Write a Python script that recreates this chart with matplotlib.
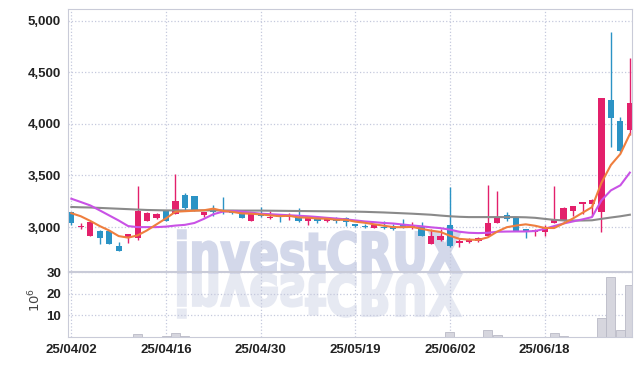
import numpy as np
import pandas as pd
import matplotlib
matplotlib.use('Agg')
import matplotlib.pyplot as plt
from matplotlib.textpath import TextPath
from matplotlib.patches import PathPatch
from matplotlib.font_manager import FontProperties
from matplotlib.transforms import Affine2D, IdentityTransform
from matplotlib.ticker import FuncFormatter, FixedLocator

# trading days (KRX holidays skipped)
holidays = ['2025-05-01', '2025-05-05', '2025-05-06', '2025-06-03', '2025-06-06']
dates = pd.bdate_range('2025-04-02', '2025-07-01', freq='C', holidays=holidays)

opens = [3146, 3000, 2912, 2961, 2960, 2815, 2893, 2893, 3064, 3090,
         3162, 3129, 3314, 3302, 3120, 3170, 3160, 3165, 3152, 3064,
         3130, 3085, 3120, 3095, 3097, 3064, 3090, 3061, 3090, 3090,
         3030, 3010, 2996, 3005, 3010, 3025, 2990, 3006, 2838, 2876,
         3025, 2845, 2855, 2870, 2918, 3042, 3120, 3097, 2977, 2952,
         2952, 3042, 3064, 3152, 3222, 3227, 3146, 4232, 4027, 3940]
closes = [3039, 3010, 3049, 2896, 2840, 2772, 2935, 3159, 3139, 3129,
          3064, 3253, 3185, 3162, 3149, 3145, 3145, 3138, 3088, 3136,
          3107, 3100, 3097, 3110, 3058, 3093, 3058, 3090, 3058, 3054,
          3006, 3000, 3016, 2995, 2985, 3000, 3016, 2918, 2912, 2918,
          2815, 2865, 2885, 2896, 3042, 3097, 3074, 2967, 2955, 2970,
          2993, 3071, 3188, 3200, 3243, 3265, 4248, 4054, 3736, 4200]
highs = [3150, 3040, 3049, 2975, 2965, 2860, 2935, 3400, 3145, 3135,
         3165, 3510, 3334, 3305, 3150, 3210, 3290, 3170, 3158, 3145,
         3190, 3155, 3125, 3136, 3188, 3100, 3095, 3095, 3095, 3095,
         3035, 3030, 3020, 3064, 3030, 3074, 3049, 3049, 2983, 2983,
         3390, 2886, 2895, 2905, 3410, 3350, 3146, 3100, 2985, 2983,
         3016, 3399, 3195, 3205, 3248, 3270, 4250, 4890, 4070, 4638]
lows = [3016, 2985, 2912, 2838, 2835, 2770, 2850, 2880, 3060, 3075,
        3060, 3125, 3168, 3155, 3100, 3105, 3130, 3130, 3085, 3060,
        3097, 3080, 3050, 3071, 3049, 3022, 3042, 3045, 3040, 3006,
        3000, 2990, 2995, 2983, 2970, 2990, 2985, 2915, 2835, 2870,
        2805, 2808, 2845, 2860, 2912, 3040, 3055, 2965, 2893, 2915,
        2915, 3040, 3060, 3105, 3130, 3110, 2950, 3778, 3730, 3890]

# volume, millions of shares
volume = [0.1, 0.1, 0.2, 0.2, 0.2, 0.2, 0.2, 1.5, 0.2, 0.2,
          0.3, 2.0, 0.4, 0.2, 0.1, 0.1, 0.2, 0.1, 0.1, 0.1,
          0.1, 0.1, 0.1, 0.1, 0.1, 0.1, 0.1, 0.1, 0.1, 0.1,
          0.1, 0.1, 0.1, 0.1, 0.1, 0.1, 0.1, 0.2, 0.2, 0.1,
          2.5, 0.2, 0.1, 0.1, 3.3, 1.1, 0.2, 0.2, 0.1, 0.1,
          0.2, 2.0, 0.6, 0.2, 0.1, 0.2, 8.6, 27.6, 3.1, 24.0]

# moving averages as drawn
ma5 = [3135, 3105, 3060, 3010, 2967, 2913, 2898, 2920, 2969, 3027,
       3085, 3149, 3154, 3159, 3163, 3179, 3157, 3148, 3133, 3130,
       3123, 3114, 3106, 3110, 3094, 3092, 3083, 3082, 3071, 3071,
       3053, 3042, 3027, 3014, 3000, 2999, 3002, 2983, 2966, 2953,
       2916, 2886, 2879, 2876, 2901, 2957, 2999, 3015, 3027, 3013,
       2992, 2991, 3035, 3084, 3139, 3193, 3429, 3602, 3709, 3901]
ma20 = [3275, 3243, 3210, 3162, 3113, 3064, 3010, 3000, 3000, 3000,
        3005, 3015, 3022, 3040, 3080, 3125, 3150, 3155, 3150, 3140,
        3130, 3125, 3120, 3115, 3110, 3105, 3098, 3090, 3083, 3075,
        3065, 3055, 3048, 3040, 3035, 3025, 3016, 3008, 2998, 2990,
        2975, 2955, 2945, 2942, 2945, 2955, 2957, 2958, 2958, 2962,
        2983, 3010, 3035, 3055, 3075, 3097, 3259, 3356, 3405, 3528]
ma60 = [3195, 3192, 3190, 3186, 3182, 3178, 3174, 3170, 3166, 3164,
        3162, 3162, 3162, 3162, 3162, 3162, 3161, 3161, 3160, 3160,
        3160, 3159, 3158, 3157, 3156, 3155, 3154, 3153, 3152, 3151,
        3150, 3148, 3145, 3142, 3138, 3134, 3130, 3125, 3120, 3112,
        3105, 3100, 3097, 3097, 3097, 3097, 3097, 3097, 3095, 3090,
        3080, 3070, 3065, 3064, 3064, 3066, 3080, 3093, 3105, 3120]

UP = '#e3206b'
DOWN = '#2b93c5'
GRID = '#c5c9dd'
EDGE = '#c9cbd8'
TXT = '#222222'
font = ['Liberation Sans', 'DejaVu Sans']

fig = plt.figure(figsize=(6.42, 3.66), dpi=100)
ax = fig.add_axes([0.106, 0.2596, 0.878, 0.715])
vax = fig.add_axes([0.106, 0.0792, 0.878, 0.1776], sharex=ax)
for a in (ax, vax):
    a.set_facecolor('none')
    for s in a.spines.values():
        s.set_color(EDGE)
        s.set_linewidth(0.8)
    a.grid(True, linestyle=':', color=GRID, linewidth=0.9)
    a.set_axisbelow(True)
    a.tick_params(length=0, colors=TXT, labelsize=9.5)

# watermark with reflection
tp = TextPath((0, 0), 'investCRUX', size=100,
              prop=FontProperties(family='DejaVu Sans', weight='bold'))
bb = tp.get_extents()
sx = 283 / bb.width
sy = 41 / 73.0
top = Affine2D().translate(-bb.x0, 0).scale(sx, sy).translate(178, 93)
refl = Affine2D().translate(-bb.x0, 0).scale(sx, -sy).translate(178, 91)
fig.patches.append(PathPatch(top.transform_path(tp), facecolor='#d3d8ea', edgecolor='#d3d8ea',
                             linewidth=1.6, transform=IdentityTransform(), zorder=-1, figure=fig))
fig.patches.append(PathPatch(refl.transform_path(tp), facecolor='#e6e9f2', edgecolor='#e6e9f2',
                             linewidth=1.6, transform=IdentityTransform(), zorder=-1, figure=fig))

x = np.arange(len(closes))
o = np.array(opens)
c = np.array(closes)
colors = [UP if cc >= oo else DOWN for oo, cc in zip(o, c)]
body_lo = np.minimum(o, c)
body_h = np.maximum(np.abs(c - o), 8)

ax.vlines(x, lows, highs, colors=colors, linewidth=1.0, zorder=2)
ax.bar(x, body_h, bottom=body_lo, width=0.66, color=colors, zorder=2)

ax.plot(x, ma60, color='#8a8a8a', linewidth=1.5, zorder=3)
ax.plot(x, ma20, color='#c952e6', linewidth=1.5, zorder=3)
ax.plot(x, ma5, color='#ef7e3e', linewidth=1.5, zorder=3)

ax.set_ylim(2575, 5110)
ax.yaxis.set_major_locator(FixedLocator([3000, 3500, 4000, 4500, 5000]))
ax.yaxis.set_major_formatter(FuncFormatter(lambda v, p: f'{v:,.0f}'))
ax.set_xlim(-0.35, 59.2)
plt.setp(ax.get_xticklabels(), visible=False)

vax.bar(x, volume, width=0.95, color='#d6d6de', edgecolor='#b9bac6', linewidth=0.6, zorder=2)
vax.set_ylim(0, 30)
vax.yaxis.set_major_locator(FixedLocator([10, 20, 30]))

tick_pos = x[::10]
vax.set_xticks(tick_pos)
vax.set_xticklabels([d.strftime('%y/%m/%d') for d in dates[::10]])

for lab in ax.get_yticklabels() + vax.get_yticklabels() + vax.get_xticklabels():
    lab.set_family(font)
    lab.set_weight('bold')
vax.tick_params(axis='x', pad=5)
ax.tick_params(axis='y', pad=5)
vax.tick_params(axis='y', pad=5)

fig.text(35 / 642, 0.18, r'$10^6$', rotation=90, ha='center', va='center',
         fontsize=9.5, color='#444444')

fig.savefig('out.png', dpi=100)
